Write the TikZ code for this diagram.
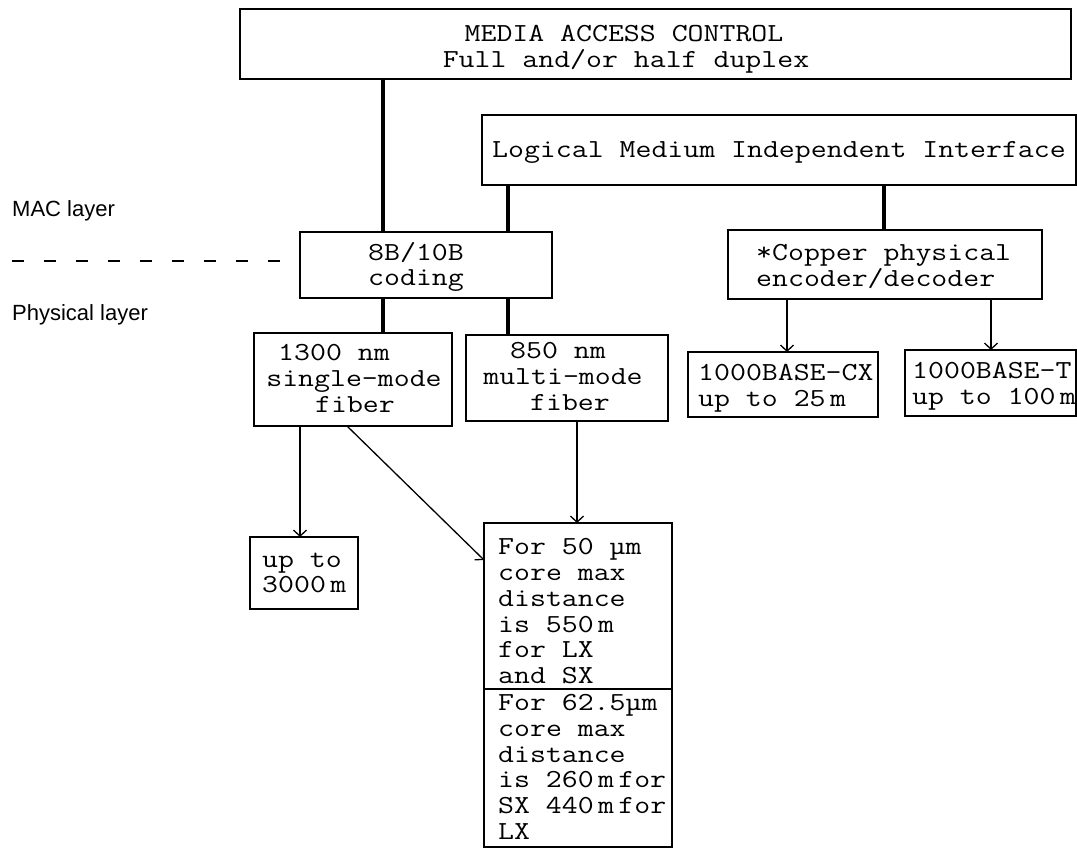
\documentclass[tikz,border=0pt]{standalone}
\usepackage{fontspec}
\setmonofont[FakeStretch=1.19]{Latin Modern Mono}
\newfontfamily\labfont{Liberation Sans}
\usetikzlibrary{arrows.meta}
\newcommand\monotxt{\ttfamily\fontsize{26}{26}\selectfont}
\tikzset{
  bx/.style={draw=black, line width=1.8pt, inner sep=0pt, outer sep=0pt, anchor=north west},
  conn/.style={draw=black, line width=3.6pt},
  arr/.style={draw=black, line width=1.3pt, -{Straight Barb[length=6pt,width=13pt,line width=1.3pt]}},
  tc/.style={font=\monotxt, inner sep=0pt, anchor=base},
  tl/.style={font=\monotxt, inner sep=0pt, anchor=base west},
  lab/.style={font=\labfont\fontsize{22}{24}\selectfont, inner sep=0pt, anchor=base west}
}
\begin{document}
\begin{tikzpicture}[x=1pt,y=-1pt]
\useasboundingbox (0,0) rectangle (1077,848);
% x positions
\coordinate (x300) at (300,0);
\coordinate (x347) at (347,0);
\coordinate (x383) at (383,0);
\coordinate (x508) at (508,0);
\coordinate (x577) at (577,0);
\coordinate (x787) at (787,0);
\coordinate (x884) at (884,0);
\coordinate (x991) at (991,0);
\coordinate (y560) at (0,560);
% boxes
\node[bx, minimum width=831pt, minimum height=70pt] (mac) at (240,9) {};
\node[bx, minimum width=594pt, minimum height=70pt] (lmii) at (482,115) {};
\node[bx, minimum width=252pt, minimum height=66pt] (coding) at (300,232) {};
\node[bx, minimum width=314pt, minimum height=69pt] (copper) at (728,230) {};
\node[bx, minimum width=198pt, minimum height=93pt] (sm) at (254,333) {};
\node[bx, minimum width=202pt, minimum height=86pt] (mm) at (466,335) {};
\node[bx, minimum width=190pt, minimum height=65pt] (cx) at (688,352) {};
\node[bx, minimum width=171pt, minimum height=66pt] (bt) at (905,350) {};
\node[bx, minimum width=108pt, minimum height=72pt] (up) at (250,537) {};
\node[bx, minimum width=188pt, minimum height=166pt] (bigA) at (484,523) {};
\node[bx, minimum width=188pt, minimum height=158pt] (bigB) at (484,689) {};
% texts
\node[tc] (mac1) at (624,42) {MEDIA ACCESS CONTROL};
\node[tc] (mac2) at (626,68) {Full and/or half duplex};
\node[tc] (lm1) at (779,158) {Logical Medium Independent Interface};
\node[tc] (cd1) at (416,260) {8B/10B};
\node[tc] (cd2) at (416,285) {coding};
\node[tl] (cp1) at (756,260) {*Copper physical};
\node[tl] (cp2) at (756,286) {encoder/decoder};
\node[tc] (sm1) at (334,360) {1300 nm};
\node[tc] (sm2) at (354,386) {single-mode};
\node[tc] (sm3) at (355,412) {fiber};
\node[tc] (mm1) at (558,358) {850 nm};
\node[tc] (mm2) at (563,384) {multi-mode};
\node[tc] (mm3) at (570,410) {fiber};
\node[tl] (cx1) at (698,380) {1000BASE-CX};
\node[tl] (cx2) at (698,406) {up to 25\,m};
\node[tl] (bt1) at (912,378) {1000BASE-T};
\node[tl] (bt2) at (912,404) {up to 100\,m};
\node[tl] (up1) at (262,567) {up to};
\node[tl] (up2) at (262,592) {3000\,m};
\node[tl] (a1) at (498,554) {For 50 µm};
\node[tl] (a2) at (498,580) {core max};
\node[tl] (a3) at (498,606) {distance};
\node[tl] (a4) at (498,632) {is 550\,m};
\node[tl] (a5) at (498,657) {for LX};
\node[tl] (a6) at (498,683) {and SX};
\node[tl] (b1) at (498,710) {For 62.5µm};
\node[tl] (b2) at (498,736) {core max};
\node[tl] (b3) at (498,762) {distance};
\node[tl] (b4) at (498,787) {is 260\,m\,for};
\node[tl] (b5) at (498,813) {SX 440\,m\,for};
\node[tl] (b6) at (498,839) {LX};
% side labels
\node[lab] (maclab) at (12,217) {MAC layer};
\node[lab] (phylab) at (12,320) {Physical layer};
\coordinate (dashL) at (12,261);
\coordinate (dashR) at (280,261);
\draw[line width=1.5pt, dash pattern=on 12pt off 20pt] (dashL) -- (dashR);
% connectors
\draw[conn] (x383 |- mac.south) -- (x383 |- coding.north);
\draw[conn] (x508 |- lmii.south) -- (x508 |- coding.north);
\draw[conn] (x884 |- lmii.south) -- (x884 |- copper.north);
\draw[conn] (x383 |- coding.south) -- (x383 |- sm.north);
\draw[conn] (x508 |- coding.south) -- (x508 |- mm.north);
\draw[arr] (x787 |- copper.south) -- (x787 |- cx.north);
\draw[arr] (x991 |- copper.south) -- (x991 |- bt.north);
\draw[arr] (x300 |- sm.south) -- (x300 |- up.north);
\draw[arr] (x347 |- sm.south) -- (bigA.west |- y560);
\draw[arr] (x577 |- mm.south) -- (x577 |- bigA.north);
\end{tikzpicture}
\end{document}
